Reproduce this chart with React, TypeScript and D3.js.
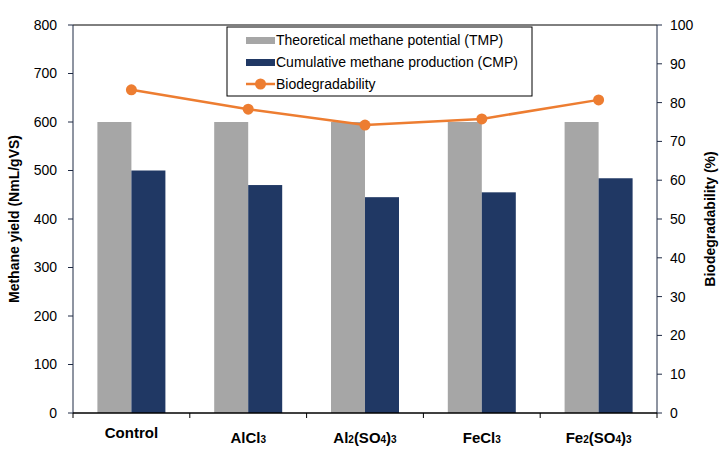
import React from "react";
import * as d3 from "d3";

const categories = ["Control", "AlCl3", "Al2(SO4)3", "FeCl3", "Fe2(SO4)3"];
const labelParts: [string, boolean][][] = [
  [["Control", false]],
  [["AlCl", false], ["3", true]],
  [["Al", false], ["2", true], ["(SO", false], ["4", true], [")", false], ["3", true]],
  [["FeCl", false], ["3", true]],
  [["Fe", false], ["2", true], ["(SO", false], ["4", true], [")", false], ["3", true]],
];
const tmp = [600, 600, 600, 600, 600];
const cmp = [500, 470, 445, 455, 484];
const biodeg = [83.3, 78.3, 74.2, 75.8, 80.7];
const leftTicks = [0, 100, 200, 300, 400, 500, 600, 700, 800];
const rightTicks = [0, 10, 20, 30, 40, 50, 60, 70, 80, 90, 100];

const W = 719, H = 455;
const L = 73, R = 657, T = 25, B = 413;
const GRAY = "#A6A6A6", NAVY = "#203864", ORANGE = "#ED7D31";
const FONT = "'Liberation Sans', Arial, sans-serif";

export default function App() {
  const x = d3.scaleBand<string>().domain(categories).range([L, R]);
  const yL = d3.scaleLinear().domain([0, 800]).range([B, T]);
  const yR = d3.scaleLinear().domain([0, 100]).range([B, T]);
  const bw = 34;
  const center = (c: string) => (x(c) as number) + x.bandwidth() / 2;
  const line = d3.line<number>().x((_, i) => center(categories[i])).y((d) => yR(d));

  return (
    <svg width={W} height={H} style={{ position: "absolute", left: 0, top: 0, background: "#fff" }} fontFamily={FONT}>
      <rect x={0} y={0} width={W} height={H} fill="#fff" />
      {categories.map((c, i) => (
        <g key={c}>
          <rect x={center(c) - bw} y={yL(tmp[i])} width={bw} height={B - yL(tmp[i])} fill={GRAY} />
          <rect x={center(c)} y={yL(cmp[i])} width={bw} height={B - yL(cmp[i])} fill={NAVY} />
        </g>
      ))}
      {/* frame */}
      <line x1={L} x2={R} y1={T} y2={T} stroke="#000" strokeWidth={1} />
      <line x1={L} x2={L} y1={T} y2={B} stroke="#1f2a44" strokeWidth={1} />
      <line x1={R} x2={R} y1={T} y2={B} stroke="#1f2a44" strokeWidth={1} />
      <line x1={L} x2={R} y1={B} y2={B} stroke="#000" strokeWidth={1.5} />
      {/* left ticks */}
      {leftTicks.map((t) => (
        <g key={"l" + t}>
          <line x1={L - 5} x2={L} y1={yL(t)} y2={yL(t)} stroke="#1f2a44" />
          <text x={L - 16} y={yL(t)} dy="0.35em" textAnchor="end" fontSize={14} fill="#000">{t}</text>
        </g>
      ))}
      {rightTicks.map((t) => (
        <g key={"r" + t}>
          <line x1={R} x2={R + 5} y1={yR(t)} y2={yR(t)} stroke="#1f2a44" />
          <text x={R + 13} y={yR(t)} dy="0.35em" textAnchor="start" fontSize={14} fill="#000">{t}</text>
        </g>
      ))}
      {/* category separators */}
      {categories.map((c) => (
        <line key={"s" + c} x1={x(c) as number} x2={x(c) as number} y1={B} y2={B + 5} stroke="#000" />
      ))}
      <line x1={R} x2={R} y1={B} y2={B + 5} stroke="#000" />
      {/* x labels */}
      {labelParts.map((parts, i) => (
        <text key={"x" + i} x={center(categories[i])} y={i === 0 ? 438 : 443} textAnchor="middle" fontSize={15} fontWeight="bold" fill="#000">
          {parts.map(([s, sub], j) => (
            <tspan key={j} fontSize={sub ? 10 : 15}>{s}</tspan>
          ))}
        </text>
      ))}
      {/* line */}
      <path d={line(biodeg) as string} fill="none" stroke={ORANGE} strokeWidth={2.5} />
      {biodeg.map((v, i) => (
        <circle key={"c" + i} cx={center(categories[i])} cy={yR(v)} r={5.5} fill={ORANGE} />
      ))}
      {/* axis titles */}
      <text transform={`translate(19,${(T + B) / 2}) rotate(-90)`} textAnchor="middle" fontSize={14} fontWeight="bold" fill="#000">
        Methane yield (NmL/gVS)
      </text>
      <text transform={`translate(715,${(T + B) / 2}) rotate(-90)`} textAnchor="middle" fontSize={14} fontWeight="bold" fill="#000">
        Biodegradability (%)
      </text>
      {/* legend */}
      <rect x={227} y={27} width={305} height={69} fill="#fff" stroke="#000" strokeWidth={1} />
      <rect x={246} y={37} width={29} height={7} fill={GRAY} />
      <text x={276} y={40} dy="0.35em" fontSize={14} fill="#000">Theoretical methane potential (TMP)</text>
      <rect x={246} y={59} width={29} height={7} fill={NAVY} />
      <text x={276} y={62} dy="0.35em" fontSize={14} fill="#000">Cumulative methane production (CMP)</text>
      <line x1={246} x2={275} y1={84} y2={84} stroke={ORANGE} strokeWidth={2.5} />
      <circle cx={260.5} cy={84} r={5.5} fill={ORANGE} />
      <text x={276} y={84} dy="0.35em" fontSize={14} fill="#000">Biodegradability</text>
    </svg>
  );
}
